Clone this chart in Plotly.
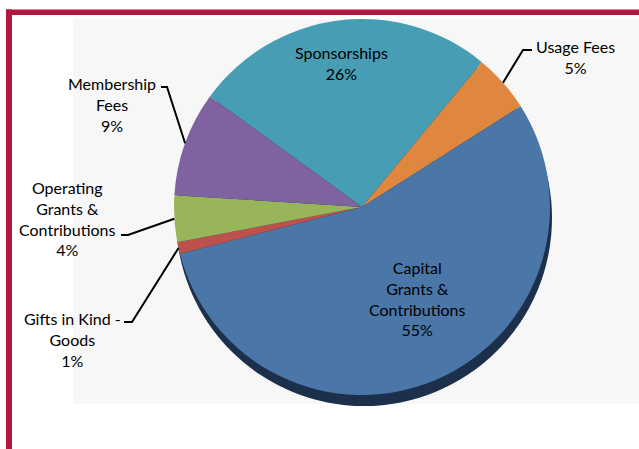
import math
import plotly.graph_objects as go

# Revenue mix by source (percent of total), listed clockwise from Sponsorships
categories = ["Sponsorships", "Usage Fees", "Capital Grants & Contributions",
              "Gifts in Kind - Goods", "Operating Grants & Contributions", "Membership Fees"]
display_names = ["Sponsorships", "Usage Fees", "Capital<br>Grants &<br>Contributions",
                 "Gifts in Kind -<br>Goods", "Operating<br>Grants &<br>Contributions", "Membership<br>Fees"]
values = [26, 5, 55, 1, 4, 9]
colors = ["#479EB4", "#E0873F", "#4A76A8", "#BE504D", "#98B55A", "#7F62A0"]

W, H = 639, 449
START_ANGLE = 306          # clockwise from 12 o'clock, where the first slice begins
CX, CY, R = 362, 207, 188  # pie centre and radius in pixels


def fx(x):
    return x / W


def fy(y):
    return 1 - y / H


def domain(dx=0, dy=0):
    return dict(x=[fx(CX + dx - R - 30), fx(CX + dx + R + 30)],
                y=[fy(CY + dy + R), fy(CY + dy - R)])


fig = go.Figure()

# dark rim underneath gives the pie its thickness
fig.add_trace(go.Pie(values=[1], marker=dict(colors=["#1D304B"]), textinfo="none",
                     hoverinfo="skip", showlegend=False, sort=False,
                     domain=domain(2, 11)))

fig.add_trace(go.Pie(labels=categories, values=values, sort=False, direction="clockwise",
                     rotation=START_ANGLE, marker=dict(colors=colors, line=dict(width=0)),
                     textinfo="none", hoverinfo="label+percent", showlegend=False,
                     domain=domain()))

# mid-angle of each slice on the rim, for the leader lines
total = sum(values)
mid_points = {}
acc = 0
for name, v in zip(categories, values):
    theta = math.radians(START_ANGLE + (acc + v / 2) / total * 360)
    mid_points[name] = (CX + R * math.sin(theta), CY - R * math.cos(theta))
    acc += v

# label placement (pixel centre) and leader-line start / elbow
label_pos = {
    "Sponsorships": (342, 63),
    "Usage Fees": (575, 57),
    "Capital Grants & Contributions": (417, 298),
    "Gifts in Kind - Goods": (72, 339),
    "Operating Grants & Contributions": (67, 218),
    "Membership Fees": (112, 104),
}
leaders = {
    "Usage Fees": ((532, 50), (523, 50)),
    "Gifts in Kind - Goods": ((124, 322), (132, 322)),
    "Operating Grants & Contributions": ((121, 235), (128, 235)),
    "Membership Fees": ((161, 87), (167, 87)),
}

font = dict(family="Lato, Open Sans, sans-serif", size=16, color="#000000")
for name, disp, v in zip(categories, display_names, values):
    x, y = label_pos[name]
    fig.add_annotation(x=fx(x), y=fy(y), xref="paper", yref="paper",
                       text=f"{disp}<br>{v}%", showarrow=False, font=font,
                       xanchor="center", yanchor="middle", align="center")

shapes = [
    # light plot-area panel
    dict(type="rect", xref="paper", yref="paper", x0=fx(73), x1=1, y0=fy(404), y1=fy(19),
         fillcolor="#F7F7F7", line=dict(width=0), layer="below"),
    # crimson frame, top and left
    dict(type="rect", xref="paper", yref="paper", x0=fx(6), x1=1, y0=fy(15), y1=fy(9.5),
         fillcolor="#B0183F", line=dict(width=0), layer="above"),
    dict(type="rect", xref="paper", yref="paper", x0=fx(6), x1=fx(12), y0=0, y1=fy(9.5),
         fillcolor="#B0183F", line=dict(width=0), layer="above"),
]
for name, (start, elbow) in leaders.items():
    ax, ay = mid_points[name]
    path = (f"M {fx(start[0])},{fy(start[1])} L {fx(elbow[0])},{fy(elbow[1])} "
            f"L {fx(ax)},{fy(ay)}")
    shapes.append(dict(type="path", xref="paper", yref="paper", path=path,
                       line=dict(color="#000000", width=2), layer="above"))

fig.update_layout(width=W, height=H, margin=dict(l=0, r=0, t=0, b=0),
                  paper_bgcolor="#FFFFFF", plot_bgcolor="#FFFFFF",
                  shapes=shapes, showlegend=False)

fig.write_html("out.html")
